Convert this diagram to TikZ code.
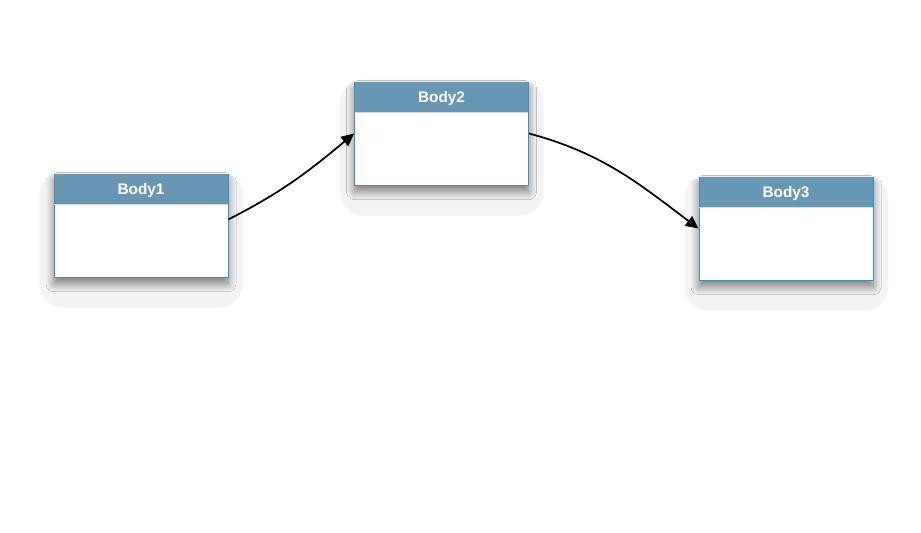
\documentclass[tikz,border=0pt]{standalone}
\usepackage{fontspec}
\setsansfont{Liberation Sans}
\usetikzlibrary{positioning}
\usetikzlibrary{arrows.meta}
\usetikzlibrary{backgrounds}
\usetikzlibrary{shadows.blur}
\definecolor{headblue}{HTML}{6897B3}
\definecolor{edgeblue}{HTML}{3D8DC4}
\definecolor{halogray}{HTML}{F3F3F3}

\begin{document}
\begin{tikzpicture}[x=0.75pt,y=-0.75pt,
  body/.style={draw=edgeblue,fill=white,line width=0.75pt,inner sep=0pt,
    minimum width=130.5pt,minimum height=77.25pt,
    blur shadow={shadow xshift=0pt,shadow yshift=-5pt,shadow blur radius=6pt,
      shadow blur steps=20,shadow opacity=50}},
  head/.style={fill=headblue,inner sep=0pt,minimum width=129.75pt,minimum height=22.5pt,
    text depth=0pt,anchor=north,text=white,font=\sffamily\bfseries\fontsize{11.5}{13}\selectfont},
  sep/.style={draw=black!15,line width=0.75pt},
  halo/.style={fill=halogray,rounded corners=18pt},
  link/.style={-{Triangle[length=9.5pt,width=9pt]},line width=1.3pt}]

\useasboundingbox (0,0) rectangle (921,532);

% the three bodies
\node[body] (b1) at (141,225.5) {};
\node[head] (b1h) at ([yshift=-0.375pt]b1.north) {Body1};
\draw[sep] (b1h.south west) -- (b1h.south east);

\node[body] (b2) at (441.5,133.5) {};
\node[head] (b2h) at ([yshift=-0.375pt]b2.north) {Body2};
\draw[sep] (b2h.south west) -- (b2h.south east);

\node[body] (b3) at (786,228.5) {};
\node[head] (b3h) at ([yshift=-0.375pt]b3.north) {Body3};
\draw[sep] (b3h.south west) -- (b3h.south east);

% soft halo behind each body
\begin{scope}[on background layer]
\foreach \b in {b1,b2,b3}
  \fill[halo] ([xshift=-10.5pt,yshift=1.5pt]\b.north west) rectangle ([xshift=11pt,yshift=-22.5pt]\b.south east);
\end{scope}

% links
\draw[link] (b1.4) to[out=27,in=220] (b2.west);
\draw[link] (b2.east) to[out=-15,in=143] (b3.west);
\end{tikzpicture}
\end{document}
